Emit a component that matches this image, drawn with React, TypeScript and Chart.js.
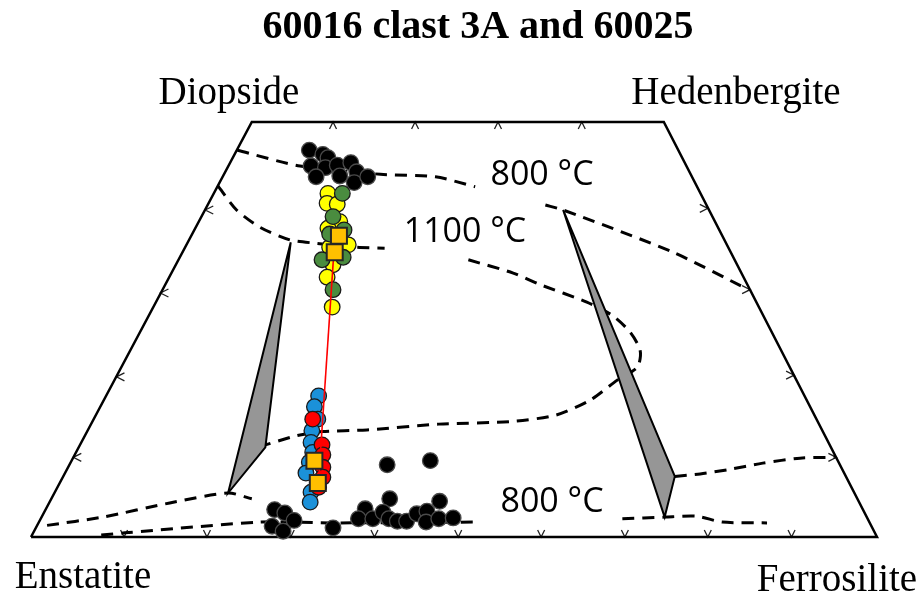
import React, { useEffect, useRef } from 'react';
import { Chart, registerables } from 'chart.js';

Chart.register(...registerables);

type P = { x: number; y: number };

// Coordinates: x = position along En–Fs base (0..100), y = Wo (0..50)
const outline: P[] = [
  { x: 0, y: 0 }, { x: 26.1, y: 50 }, { x: 74.8, y: 50 }, { x: 100, y: 0 }, { x: 0, y: 0 },
];

const topTicks: P[] = [{ x: 35.7, y: 50 }, { x: 45.4, y: 50 }, { x: 55.2, y: 50 }, { x: 65.1, y: 50 }];
const bottomTicks: P[] = [
  { x: 11.0, y: 0 }, { x: 20.8, y: 0 }, { x: 30.7, y: 0 }, { x: 40.6, y: 0 }, { x: 50.5, y: 0 },
  { x: 60.3, y: 0 }, { x: 70.2, y: 0 }, { x: 80.0, y: 0 }, { x: 89.9, y: 0 },
];
const leftTicks: P[] = [{ x: 5.0, y: 9.6 }, { x: 10.1, y: 19.3 }, { x: 15.3, y: 29.4 }, { x: 20.6, y: 39.4 }];
const rightTicks: P[] = [{ x: 95.2, y: 9.6 }, { x: 90.2, y: 19.5 }, { x: 85.0, y: 29.8 }, { x: 80.0, y: 39.6 }];

// Isotherms (dashed)
const aug800a: P[] = [
  { x: 24.4, y: 46.6 }, { x: 31.8, y: 44.7 }, { x: 41.3, y: 43.7 }, { x: 47.8, y: 43.4 }, { x: 52.5, y: 42.2 },
];
const aug800b: P[] = [
  { x: 60.8, y: 40.0 }, { x: 62.9, y: 39.4 }, { x: 75.9, y: 34.3 }, { x: 84.8, y: 29.8 },
];
const opx800a: P[] = [
  { x: 8.3, y: 0.24 }, { x: 11.1, y: 0.5 }, { x: 27.2, y: 1.8 }, { x: 35.3, y: 1.7 }, { x: 52.8, y: 1.8 },
];
const opx800b: P[] = [
  { x: 69.9, y: 2.2 }, { x: 74.9, y: 2.4 }, { x: 78.7, y: 2.5 }, { x: 81.7, y: 1.8 }, { x: 87.0, y: 1.7 },
];
const pig800: P[] = [
  { x: 76.1, y: 7.3 }, { x: 79.1, y: 7.6 }, { x: 82.3, y: 8.1 }, { x: 86.5, y: 8.9 }, { x: 90.9, y: 9.5 }, { x: 95.0, y: 9.6 },
];
const aug1100a: P[] = [
  { x: 22.1, y: 42.3 }, { x: 24.3, y: 39.4 }, { x: 27.1, y: 37.3 }, { x: 30.6, y: 35.8 }, { x: 33.6, y: 35.4 },
  { x: 38.5, y: 34.9 }, { x: 41.8, y: 34.8 },
];
const aug1100b: P[] = [
  { x: 51.7, y: 33.4 }, { x: 57.0, y: 31.8 }, { x: 60.2, y: 30.4 }, { x: 65.7, y: 28.3 }, { x: 68.7, y: 26.7 },
  { x: 70.8, y: 24.7 }, { x: 72.0, y: 22.5 }, { x: 71.7, y: 20.5 }, { x: 69.3, y: 18.9 }, { x: 66.1, y: 16.5 },
  { x: 62.1, y: 14.7 }, { x: 56.6, y: 13.9 }, { x: 48.2, y: 13.6 }, { x: 39.7, y: 12.9 }, { x: 34.4, y: 12.7 },
  { x: 31.4, y: 12.2 }, { x: 27.7, y: 11.1 },
];
const opx1100: P[] = [
  { x: 1.9, y: 1.4 }, { x: 8.5, y: 2.4 }, { x: 16.4, y: 4.1 }, { x: 23.3, y: 5.3 }, { x: 26.1, y: 4.6 },
];

// Three-pyroxene triangles
const tie1100: P[] = [{ x: 30.7, y: 35.5 }, { x: 27.7, y: 10.8 }, { x: 23.3, y: 5.3 }, { x: 30.7, y: 35.5 }];
const tie800: P[] = [{ x: 62.9, y: 39.4 }, { x: 76.1, y: 7.3 }, { x: 74.9, y: 2.4 }, { x: 62.9, y: 39.4 }];

// Analyses
const black60025: P[] = [
  { x: 32.9, y: 46.6 }, { x: 34.5, y: 46.1 }, { x: 35.1, y: 45.7 }, { x: 33.1, y: 44.7 }, { x: 34.8, y: 44.5 },
  { x: 36.2, y: 44.8 }, { x: 37.8, y: 45.1 }, { x: 33.7, y: 43.4 }, { x: 36.5, y: 43.5 }, { x: 38.5, y: 44.0 },
  { x: 38.2, y: 42.7 }, { x: 39.8, y: 43.4 },
  { x: 42.1, y: 8.7 }, { x: 47.2, y: 9.2 }, { x: 42.4, y: 4.6 }, { x: 48.3, y: 4.3 }, { x: 39.5, y: 3.4 },
  { x: 38.7, y: 2.2 }, { x: 40.4, y: 2.2 }, { x: 41.6, y: 3.0 }, { x: 42.3, y: 2.2 }, { x: 43.3, y: 1.9 },
  { x: 44.4, y: 1.9 }, { x: 45.6, y: 2.8 }, { x: 46.8, y: 3.1 }, { x: 46.7, y: 1.8 }, { x: 48.2, y: 2.2 },
  { x: 49.9, y: 2.3 },
  { x: 28.8, y: 3.3 }, { x: 30.0, y: 2.9 }, { x: 31.1, y: 2.0 }, { x: 28.5, y: 1.3 }, { x: 29.8, y: 0.7 },
  { x: 35.7, y: 1.1 },
];
const yellowAug: P[] = [
  { x: 35.1, y: 41.4 }, { x: 35.0, y: 40.2 }, { x: 36.2, y: 40.1 }, { x: 36.5, y: 38.0 }, { x: 35.1, y: 37.2 },
  { x: 37.5, y: 35.2 }, { x: 35.3, y: 34.9 }, { x: 35.7, y: 32.8 }, { x: 35.0, y: 31.3 }, { x: 35.6, y: 27.7 },
];
const greenAug: P[] = [
  { x: 36.8, y: 41.4 }, { x: 35.7, y: 38.6 }, { x: 37.0, y: 37.0 }, { x: 35.3, y: 36.5 }, { x: 36.9, y: 33.7 },
  { x: 34.4, y: 33.4 }, { x: 35.7, y: 29.8 },
];
const bluePig: P[] = [
  { x: 34.0, y: 17.0 }, { x: 33.5, y: 15.7 }, { x: 33.9, y: 14.2 }, { x: 33.2, y: 12.8 }, { x: 33.1, y: 11.4 },
  { x: 33.3, y: 10.2 }, { x: 32.9, y: 9.0 }, { x: 32.5, y: 7.7 }, { x: 33.1, y: 5.4 }, { x: 33.0, y: 4.2 },
];
const redPig: P[] = [
  { x: 33.3, y: 14.2 }, { x: 34.4, y: 11.1 }, { x: 34.5, y: 9.9 }, { x: 34.5, y: 8.4 }, { x: 34.5, y: 7.2 },
  { x: 34.0, y: 6.0 },
];
const redTie: P[] = [{ x: 35.8, y: 34.3 }, { x: 34.0, y: 6.9 }];
const orangeBulk: P[] = [{ x: 36.4, y: 36.3 }, { x: 35.9, y: 34.3 }, { x: 33.5, y: 9.2 }, { x: 33.9, y: 6.5 }];

const titleText = '60016 clast 3A and 60025';
const cornerLabels = ['Diopside', 'Hedenbergite', 'Enstatite', 'Ferrosilite'];
const isoLabels = ['800 °C', '1100 °C', '800 °C'];

const chevronPlugin = {
  id: 'chevrons',
  beforeDatasetsDraw(chart: any) {
    const { ctx, scales } = chart;
    const sx = scales.x, sy = scales.y;
    ctx.save();
    ctx.strokeStyle = '#222';
    ctx.lineWidth = 1.3;
    const draw = (pts: P[], a: [number, number], b: [number, number]) => {
      pts.forEach((p) => {
        const px = sx.getPixelForValue(p.x);
        const py = sy.getPixelForValue(p.y);
        ctx.beginPath();
        ctx.moveTo(px + a[0], py + a[1]);
        ctx.lineTo(px, py);
        ctx.lineTo(px + b[0], py + b[1]);
        ctx.stroke();
      });
    };
    draw(topTicks, [-3.5, 7], [3.5, 7]);
    draw(bottomTicks, [-3.5, -7], [3.5, -7]);
    draw(leftTicks, [8, -4], [8, 4]);
    draw(rightTicks, [-8, -4], [-8, 4]);
    ctx.restore();
  },
};

const labelPlugin = {
  id: 'labels',
  afterDraw(chart: any) {
    const { ctx } = chart;
    ctx.save();
    ctx.fillStyle = '#000';
    ctx.textAlign = 'center';
    ctx.textBaseline = 'alphabetic';
    ctx.font = 'bold 40px "Liberation Serif"';
    ctx.fillText(titleText, 478, 38);
    ctx.font = '39px "Liberation Serif"';
    ctx.fillText(cornerLabels[0], 229, 104);
    ctx.fillText(cornerLabels[1], 736, 104);
    ctx.fillText(cornerLabels[2], 83, 588);
    ctx.fillText(cornerLabels[3], 837, 591);
    ctx.font = '34px "Open Sans"';
    ctx.fillText(isoLabels[0], 542, 185);
    ctx.fillText(isoLabels[1], 465, 242);
    ctx.fillText(isoLabels[2], 552, 512);
    ctx.restore();
  },
};

const dashed = (data: P[]) => ({
  data,
  showLine: true,
  pointRadius: 0,
  pointHoverRadius: 0,
  borderColor: '#000',
  borderWidth: 3,
  borderDash: [12, 8],
  tension: 0.25,
  fill: false,
  order: 10,
});

const dots = (data: P[], bg: string, border: string, order: number) => ({
  data,
  showLine: false,
  pointStyle: 'circle',
  pointRadius: 7.8,
  pointHoverRadius: 7.8,
  pointBackgroundColor: bg,
  pointBorderColor: border,
  pointBorderWidth: 1.3,
  order,
});

export default function App() {
  const ref = useRef<HTMLCanvasElement | null>(null);
  useEffect(() => {
    if (!ref.current) return;
    const chart = new Chart(ref.current, {
      type: 'line',
      data: {
        datasets: [
          { data: outline, showLine: true, pointRadius: 0, borderColor: '#000', borderWidth: 2.5, tension: 0, fill: false, order: 11 } as any,
          dashed(aug800a), dashed(aug800b), dashed(opx800a), dashed(opx800b), dashed(pig800),
          dashed(aug1100a), dashed(aug1100b), dashed(opx1100),
          { data: tie1100, showLine: true, pointRadius: 0, borderColor: '#000', borderWidth: 2, backgroundColor: '#969696', fill: 'shape', tension: 0, order: 9 },
          { data: tie800, showLine: true, pointRadius: 0, borderColor: '#000', borderWidth: 2, backgroundColor: '#969696', fill: 'shape', tension: 0, order: 9 },
          dots(black60025, '#000000', '#4a4a4a', 8),
          dots(yellowAug, '#ffff00', '#1a1a1a', 7),
          dots(greenAug, '#4a8c3f', '#1a1a1a', 6),
          dots(bluePig, '#1b91d9', '#1a1a1a', 5),
          dots(redPig, '#ff0000', '#1a1a1a', 4),
          { data: redTie, showLine: true, pointRadius: 0, borderColor: '#ff0000', borderWidth: 1.6, tension: 0, fill: false, order: 3 },
          {
            data: orangeBulk, showLine: false, pointStyle: 'rect', pointRadius: 11.3, pointHoverRadius: 11.3,
            pointBackgroundColor: '#ffc000', pointBorderColor: '#262626', pointBorderWidth: 2, order: 2,
          },
        ] as any,
      },
      options: {
        animation: false,
        responsive: false,
        devicePixelRatio: 1,
        events: [],
        layout: { padding: 0, autoPadding: false },
        plugins: { legend: { display: false }, title: { display: false }, tooltip: { enabled: false } },
        scales: {
          x: { type: 'linear', min: -3.664, max: 105.437, display: false },
          y: { type: 'linear', min: -7.108, max: 64.699, display: false },
        },
        elements: { line: { borderCapStyle: 'butt' } },
        datasets: { line: { clip: false } as any },
      } as any,
      plugins: [chevronPlugin, labelPlugin],
    });
    return () => chart.destroy();
  }, []);
  return (
    <div style={{ position: 'absolute', left: 0, top: 0, width: 923, height: 596, background: '#fff' }}>
      <canvas ref={ref} width={923} height={596} style={{ width: 923, height: 596 }} />
    </div>
  );
}
